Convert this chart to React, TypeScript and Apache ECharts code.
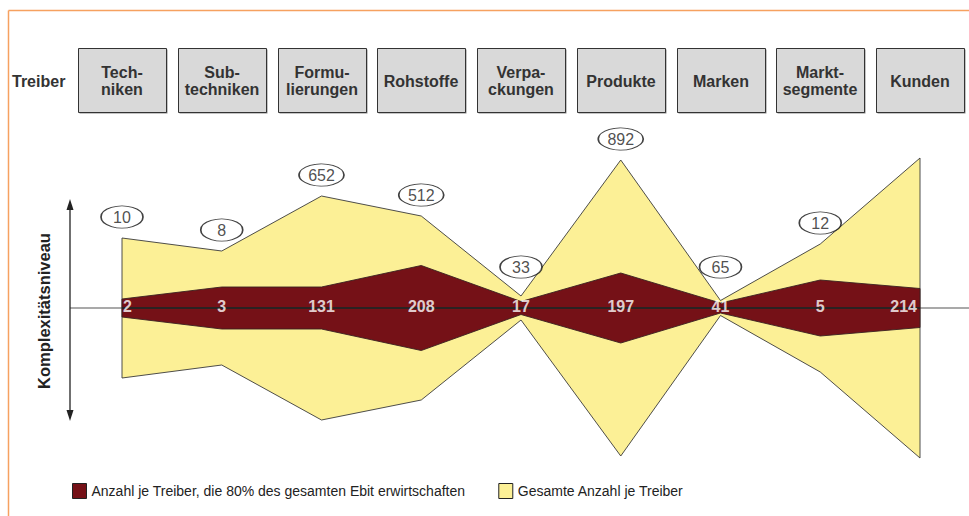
import React, { useEffect, useRef } from "react";
import * as echarts from "echarts";

// Driver categories (header boxes)
const categories = [
  "Tech-\nniken",
  "Sub-\ntechniken",
  "Formu-\nlierungen",
  "Rohstoffe",
  "Verpa-\nckungen",
  "Produkte",
  "Marken",
  "Markt-\nsegmente",
  "Kunden",
];
// Total number per driver (ellipse labels)
const totalCounts = [10, 8, 652, 512, 33, 892, 65, 12, 2142];
// Number per driver generating 80% of EBIT (white labels)
const keyCounts = [2, 3, 131, 208, 17, 197, 41, 5, 214];
// Complexity level (half thickness) of the yellow band
const totalLevel = [70, 57, 112, 92, 12, 148, 7.5, 64, 150];
// Complexity level (half thickness) of the dark red band
const keyLevel = [9, 21, 21, 42.5, 6.5, 35, 5, 28, 19.5];

const nameKey = "Anzahl je Treiber, die 80% des gesamten Ebit erwirtschaften";
const nameTotal = "Gesamte Anzahl je Treiber";

const FONT = '"Liberation Sans", Arial, sans-serif';
const NARROW = '"Liberation Sans Narrow", "Arial Narrow", "Liberation Sans", sans-serif';

function bandRenderer(levels: number[], fill: string, stroke: string) {
  return (_params: any, api: any) => {
    const pts: number[][] = [];
    for (let i = 0; i < levels.length; i++) pts.push(api.coord([i, levels[i]]));
    for (let i = levels.length - 1; i >= 0; i--) pts.push(api.coord([i, -levels[i]]));
    return {
      type: "polygon",
      shape: { points: pts },
      style: { fill, stroke, lineWidth: 0.9 },
    };
  };
}

export default function App() {
  const ref = useRef<HTMLDivElement>(null);
  useEffect(() => {
    if (!ref.current) return;
    const chart = echarts.init(ref.current, undefined, { renderer: "svg" });
    const option: any = {
      animation: false,
      backgroundColor: "#ffffff",
      grid: { left: 122, right: 49, top: 138, bottom: 38 },
      xAxis: {
        type: "category",
        data: categories,
        boundaryGap: false,
        show: false,
      },
      yAxis: { type: "value", min: -170, max: 170, show: false },
      legend: {
        data: [nameKey, nameTotal],
        left: 67,
        top: 478,
        icon: "rect",
        itemWidth: 14,
        itemHeight: 15,
        itemGap: 33,
        selectedMode: false,
        itemStyle: { borderColor: "#222", borderWidth: 1 },
        textStyle: { fontFamily: NARROW, fontSize: 14, color: "#222" },
      },
      graphic: [
        // orange frame
        { type: "line", shape: { x1: 8.5, y1: 10.5, x2: 969, y2: 10.5 }, style: { stroke: "#f6a160", lineWidth: 1.5 } },
        { type: "line", shape: { x1: 8.5, y1: 10.5, x2: 8.5, y2: 516 }, style: { stroke: "#f6a160", lineWidth: 1.5 } },
        // gray base line
        { type: "line", shape: { x1: 70, y1: 308, x2: 969, y2: 308 }, style: { stroke: "#8c8c8c", lineWidth: 1.5 }, z: -1 },
        // vertical double arrow
        { type: "line", shape: { x1: 70, y1: 208, x2: 70, y2: 412 }, style: { stroke: "#222", lineWidth: 1.3 } },
        { type: "polygon", shape: { points: [[70, 199], [66.5, 210], [73.5, 210]] }, style: { fill: "#222" } },
        { type: "polygon", shape: { points: [[70, 421], [66.5, 410], [73.5, 410]] }, style: { fill: "#222" } },
        {
          type: "text",
          x: 43.5,
          y: 311,
          rotation: Math.PI / 2,
          style: {
            text: "Komplexitätsniveau",
            align: "center",
            verticalAlign: "middle",
            font: `bold 16.5px ${FONT}`,
            fill: "#222",
          },
        },
        {
          type: "text",
          x: 12,
          y: 81,
          style: {
            text: "Treiber",
            align: "left",
            verticalAlign: "middle",
            font: `bold 16px ${FONT}`,
            fill: "#333",
          },
        },
      ],
      series: [
        {
          name: "header",
          type: "custom",
          silent: true,
          data: categories.map((_c, i) => [i, 0]),
          renderItem: (params: any, api: any) => {
            const i = params.dataIndex;
            const x = Math.round(api.coord([api.value(0), 0])[0]);
            return {
              type: "group",
              children: [
                {
                  type: "rect",
                  shape: { x: x - 44 + 1.5, y: 48 + 1.5, width: 88, height: 64 },
                  style: { fill: "#8a8a8a" },
                },
                {
                  type: "rect",
                  shape: { x: x - 44 + 0.5, y: 48.5, width: 88, height: 64 },
                  style: { fill: "#d9d9d9", stroke: "#333", lineWidth: 1 },
                },
                {
                  type: "text",
                  style: {
                    text: categories[i],
                    x: x,
                    y: 81,
                    align: "center",
                    verticalAlign: "middle",
                    font: `bold 16px ${FONT}`,
                    lineHeight: 17,
                    fill: "#333",
                  },
                },
              ],
            };
          },
          z: 1,
        },
        {
          name: nameTotal,
          type: "custom",
          silent: true,
          itemStyle: { color: "#fcf096", borderColor: "#222", borderWidth: 1 },
          data: [[0, 0]],
          renderItem: bandRenderer(totalLevel, "#fcf096", "#3a3a3a"),
          z: 2,
        },
        {
          name: nameKey,
          type: "custom",
          silent: true,
          itemStyle: { color: "#751117", borderColor: "#222", borderWidth: 1 },
          data: [[0, 0]],
          renderItem: bandRenderer(keyLevel, "#751117", "#3a2020"),
          z: 3,
        },
        {
          name: "center",
          type: "line",
          silent: true,
          symbol: "none",
          data: categories.map(() => 0),
          lineStyle: { color: "#2a2222", width: 2 },
          z: 4,
        },
        {
          name: "keyLabels",
          type: "scatter",
          silent: true,
          symbolSize: 1,
          itemStyle: { color: "rgba(0,0,0,0)" },
          data: keyCounts.map((v, i) => {
            const item: any = { value: [i, 0] };
            if (i === 0) item.label = { align: "left", offset: [1, -2] };
            if (i === keyCounts.length - 1) item.label = { align: "right", offset: [-3, -2] };
            return item;
          }),
          label: {
            show: true,
            position: "inside",
            offset: [0, -2],
            formatter: (p: any) => String(keyCounts[p.dataIndex]),
            color: "#ffffff",
            fontFamily: FONT,
            fontWeight: "bold",
            fontSize: 16,
          },
          z: 5,
        },
        {
          name: "totalLabels",
          type: "scatter",
          silent: true,
          symbol: "circle",
          symbolSize: (_v: any, p: any) => {
            const len = String(totalCounts[p.dataIndex]).length;
            return [len >= 4 ? 48 : len === 3 ? 45 : 42, 22];
          },
          itemStyle: { color: "#ffffff", borderColor: "#111", borderWidth: 1.2 },
          data: totalCounts.map((_v, i) => [i, Math.max(totalLevel[i] + 21, 41)]),
          label: {
            show: true,
            position: "inside",
            formatter: (p: any) => String(totalCounts[p.dataIndex]),
            color: "#222",
            fontFamily: FONT,
            fontSize: 16,
          },
          z: 5,
        },
      ],
    };
    chart.setOption(option);
    return () => chart.dispose();
  }, []);
  return (
    <div
      ref={ref}
      style={{ position: "fixed", left: 0, top: 0, width: 969, height: 516, background: "#fff" }}
    />
  );
}
